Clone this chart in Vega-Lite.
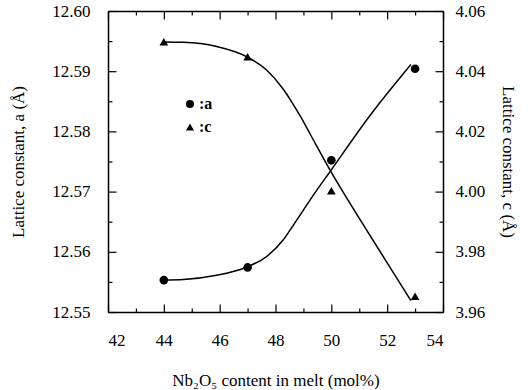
{
  "$schema": "https://vega.github.io/schema/vega-lite/v6.json",
  "width": 335,
  "height": 301,
  "autosize": {"type": "none"},
  "padding": {"left": 108, "top": 11, "right": 87, "bottom": 78},
  "background": "white",
  "config": {
    "font": "Liberation Serif",
    "view": {"stroke": null},
    "axis": {
      "grid": false,
      "ticks": true,
      "tickColor": "black",
      "tickWidth": 1.2,
      "tickOpacity": 1,
      "tickOffset": 0,
      "tickExtra": false,
      "tickRound": false,
      "tickDash": [],
      "domainColor": "black",
      "domainWidth": 1.5,
      "labelColor": "black",
      "labelFont": "Liberation Serif",
      "labelFontSize": 17,
      "titleFont": "Liberation Serif",
      "titleFontSize": 17,
      "titleFontWeight": "normal",
      "titleColor": "black"
    }
  },
  "datasets": {
    "ptsA": [
      {"x": 44, "a": 12.5553, "s": "a"},
      {"x": 47, "a": 12.5574, "s": "a"},
      {"x": 50, "a": 12.5752, "s": "a"},
      {"x": 53, "a": 12.5904, "s": "a"}
    ],
    "curveA": [
      {"x": 44.0, "a": 12.5553},
      {"x": 44.7, "a": 12.5554},
      {"x": 45.89, "a": 12.5561},
      {"x": 46.93, "a": 12.5574},
      {"x": 47.68, "a": 12.5592},
      {"x": 48.28, "a": 12.562},
      {"x": 48.55, "a": 12.5638},
      {"x": 48.88, "a": 12.5661},
      {"x": 49.4, "a": 12.5697},
      {"x": 49.95, "a": 12.5733},
      {"x": 51.38, "a": 12.5826},
      {"x": 52.85, "a": 12.5911}
    ],
    "ptsC": [
      {"x": 44, "c": 4.0498, "s": "c"},
      {"x": 47, "c": 4.0448, "s": "c"},
      {"x": 50, "c": 4.0003, "s": "c"},
      {"x": 53, "c": 3.9652, "s": "c"}
    ],
    "curveC": [
      {"x": 44.0, "c": 4.0497},
      {"x": 44.69, "c": 4.0496},
      {"x": 45.89, "c": 4.0482},
      {"x": 46.97, "c": 4.0448},
      {"x": 47.68, "c": 4.0404},
      {"x": 48.28, "c": 4.034},
      {"x": 48.6, "c": 4.0295},
      {"x": 48.88, "c": 4.0252},
      {"x": 49.23, "c": 4.0193},
      {"x": 49.95, "c": 4.0072},
      {"x": 51.38, "c": 3.9855},
      {"x": 52.85, "c": 3.9638}
    ]
  },
  "layer": [
    {
      "encoding": {
        "x": {
          "field": "x",
          "type": "quantitative",
          "scale": {"domain": [42, 54], "nice": false, "zero": false},
          "axis": {
            "orient": "bottom",
            "title": "Nb₂O₅ content in melt (mol%)",
            "values": [42, 43, 44, 45, 46, 47, 48, 49, 50, 51, 52, 53, 54],
            "labelExpr": "datum.value % 2 === 0 ? datum.label : ''",
            "tickSize": {"condition": {"test": "datum.value % 2 === 0", "value": -8}, "value": -4},
            "labelPadding": 28,
            "titlePadding": 24
          }
        },
        "y": {
          "field": "a",
          "type": "quantitative",
          "scale": {"domain": [12.55, 12.6], "nice": false, "zero": false},
          "axis": {
            "orient": "left",
            "title": "Lattice constant, a (Å)",
            "values": [12.55, 12.555, 12.56, 12.565, 12.57, 12.575, 12.58, 12.585, 12.59, 12.595, 12.6],
            "labelExpr": "abs(datum.value*100 - round(datum.value*100)) < 0.001 ? format(datum.value, '.2f') : ''",
            "tickSize": {"condition": {"test": "abs(datum.value*100 - round(datum.value*100)) < 0.001", "value": -8}, "value": -4},
            "labelPadding": 26,
            "titlePadding": 24
          }
        }
      },
      "layer": [
        {
          "data": {"name": "curveA"},
          "mark": {"type": "line", "color": "black", "strokeWidth": 1.5, "interpolate": "monotone"}
        },
        {
          "data": {"name": "ptsA"},
          "mark": {"type": "point", "filled": true, "color": "black", "size": 75, "opacity": 1},
          "encoding": {
            "shape": {
              "field": "s",
              "type": "nominal",
              "scale": {"domain": ["a", "c"], "range": ["circle", "triangle-up"]},
              "legend": {
                "orient": "none",
                "legendX": 74,
                "legendY": 85,
                "title": null,
                "padding": 0,
                "labelExpr": "':' + datum.label",
                "labelFont": "Liberation Serif",
                "labelFontSize": 16,
                "labelFontWeight": "bold",
                "labelColor": "black",
                "labelOffset": 1,
                "symbolSize": 65,
                "symbolFillColor": "black",
                "symbolStrokeColor": "black",
                "rowPadding": 7
              }
            }
          }
        }
      ]
    },
    {
      "encoding": {
        "x": {
          "field": "x",
          "type": "quantitative",
          "scale": {"domain": [42, 54], "nice": false, "zero": false},
          "axis": {
            "orient": "top",
            "title": null,
            "labels": false,
            "values": [42, 43, 44, 45, 46, 47, 48, 49, 50, 51, 52, 53, 54],
            "tickSize": {"condition": {"test": "datum.value % 2 === 0", "value": -8}, "value": -4}
          }
        },
        "y": {
          "field": "c",
          "type": "quantitative",
          "scale": {"domain": [3.96, 4.06], "nice": false, "zero": false},
          "axis": {
            "orient": "right",
            "title": "Lattice constant, c (Å)",
            "values": [3.96, 3.97, 3.98, 3.99, 4.0, 4.01, 4.02, 4.03, 4.04, 4.05, 4.06],
            "labelExpr": "round(datum.value*100) % 2 === 0 ? format(datum.value, '.2f') : ''",
            "tickSize": {"condition": {"test": "round(datum.value*100) % 2 === 0", "value": -8}, "value": -4},
            "labelPadding": 20,
            "titlePadding": 14
          }
        }
      },
      "layer": [
        {
          "data": {"name": "curveC"},
          "mark": {"type": "line", "color": "black", "strokeWidth": 1.5, "interpolate": "monotone"}
        },
        {
          "data": {"name": "ptsC"},
          "mark": {"type": "point", "filled": true, "color": "black", "size": 75, "opacity": 1},
          "encoding": {
            "shape": {
              "field": "s",
              "type": "nominal",
              "scale": {"domain": ["a", "c"], "range": ["circle", "triangle-up"]}
            }
          }
        }
      ]
    }
  ],
  "resolve": {
    "scale": {"y": "independent"},
    "axis": {"x": "independent", "y": "independent"}
  }
}
